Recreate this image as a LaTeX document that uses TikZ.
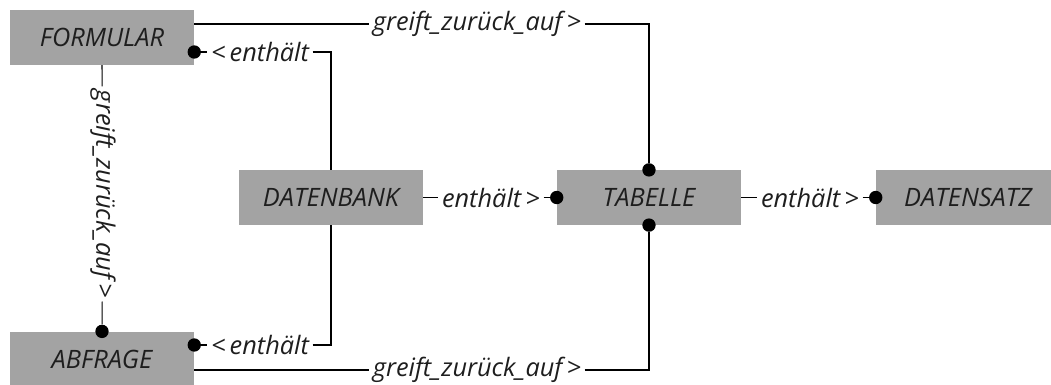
\documentclass[tikz,border=0pt]{standalone}
\usepackage{fontspec}
\setmainfont{Open Sans}
\usetikzlibrary{positioning}

\definecolor{boxgray}{HTML}{A3A3A3}
\definecolor{inkgray}{HTML}{1E1E1E}

\tikzset{
	entity/.style={rectangle, fill=boxgray, minimum width=138pt, minimum height=41pt,
		inner sep=0pt, text=inkgray, font=\fontsize{19}{22}\selectfont\itshape},
	rel/.style={inner xsep=2.5pt, inner ysep=1pt, text=inkgray, font=\fontsize{19}{22}\selectfont\itshape},
	dot/.style={circle, fill=black, inner sep=0pt, minimum size=10pt},
	conn/.style={draw=black, line width=0.8pt},
}

\begin{document}
\begin{tikzpicture}[x=0.75pt, y=-0.75pt]
	\useasboundingbox (0,0) rectangle (1051,385);

	% Entities
	\node[entity] (formular) at (102,37.5) {FORMULAR};
	\node[entity] (abfrage) at (102,359) {ABFRAGE};
	\node[entity] (datenbank) at (331,197.5) {DATENBANK};
	\node[entity] (tabelle) at (649,197.5) {TABELLE};
	\node[entity] (datensatz) at (968,197.5) {DATENSATZ};

	% Relationship labels
	\node[rel] (refTop) at (477,24) {greift\_zurück\_auf\,>};
	\node[rel] (refBot) at (477,370) {greift\_zurück\_auf\,>};
	\node[rel, rotate=-90] (refLeft) at (103,194) {greift\_zurück\_auf\,>};
	\node[rel] (hasForm) at (260,52) {<\,enthält};
	\node[rel] (hasQuery) at (260,345) {<\,enthält};
	\node[rel] (hasTable) at (491,197.5) {enthält\,>};
	\node[rel] (hasRecord) at (810,197.5) {enthält\,>};

	% Dots
	\node[dot] (dotForm) at (formular.east |- hasForm) {};
	\node[dot] (dotQuery) at (abfrage.east |- hasQuery) {};
	\node[dot] (dotQueryTop) at (abfrage.north) {};
	\node[dot] (dotTabTop) at (tabelle.north) {};
	\node[dot] (dotTabBot) at (tabelle.south) {};
	\node[dot] (dotTabLeft) at (tabelle.west) {};
	\node[dot] (dotRecord) at (datensatz.west) {};

	% Relationships
	\draw[conn] (formular.east |- refTop) -- (refTop);
	\draw[conn] (refTop) -| (dotTabTop);
	\draw[conn] (abfrage.east |- refBot) -- (refBot);
	\draw[conn] (refBot) -| (dotTabBot);
	\draw[conn] (formular.south) -- (refLeft);
	\draw[conn] (refLeft) -- (dotQueryTop);
	\draw[conn] (dotForm) -- (hasForm);
	\draw[conn] (hasForm) -| (datenbank.north);
	\draw[conn] (dotQuery) -- (hasQuery);
	\draw[conn] (hasQuery) -| (datenbank.south);
	\draw[conn] (datenbank) -- (hasTable);
	\draw[conn] (hasTable) -- (dotTabLeft);
	\draw[conn] (tabelle) -- (hasRecord);
	\draw[conn] (hasRecord) -- (dotRecord);
\end{tikzpicture}
\end{document}
